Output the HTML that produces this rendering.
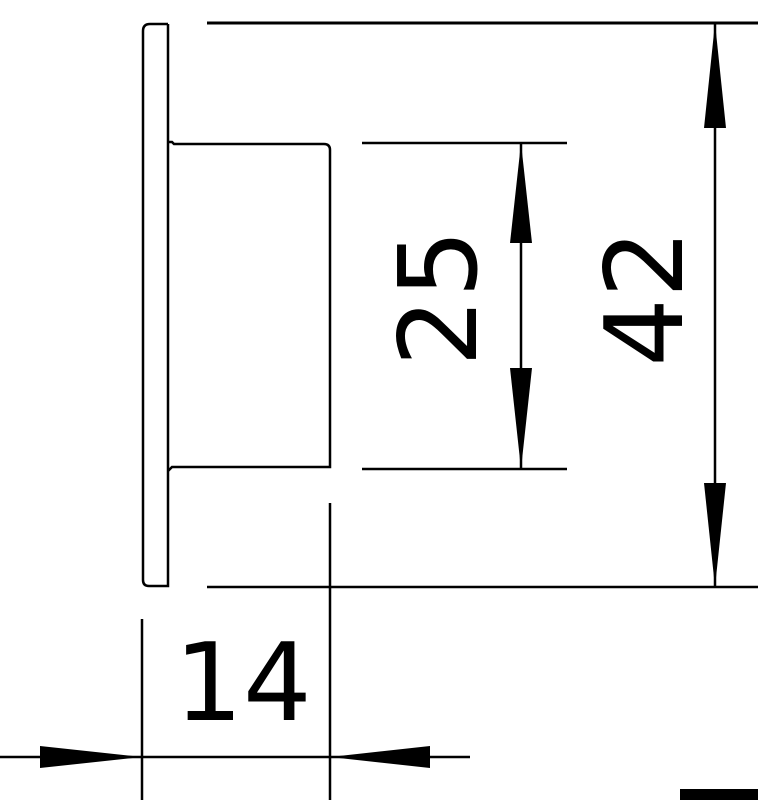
<!DOCTYPE html>
<html><head><meta charset="utf-8"><style>html,body{margin:0;padding:0;background:#fff;width:758px;height:800px;overflow:hidden}</style></head>
<body>
<svg width="758" height="800" viewBox="0 0 758 800" xmlns="http://www.w3.org/2000/svg">
<g fill="none" stroke="#000" stroke-width="2.5">
<path d="M168 24 L150 24 Q143 24 143 31 L143 580 Q143 586 149 586 L168 586 L168 24"/>
<path d="M168 142 L172 142 L174 144 L324 144 Q330 144 330 150 L330 467 L172 467 L168 471"/>
<line x1="207" y1="23" x2="758" y2="23" stroke-width="3"/>
<line x1="207" y1="587" x2="758" y2="587"/>
<line x1="330" y1="503" x2="330" y2="800"/>
<line x1="142" y1="619" x2="142" y2="800"/>
<line x1="0" y1="757" x2="470" y2="757"/>
<line x1="362" y1="143" x2="567" y2="143"/>
<line x1="362" y1="469" x2="567" y2="469"/>
<line x1="521" y1="143" x2="521" y2="469"/>
<line x1="715" y1="23" x2="715" y2="587"/>
</g>
<g fill="#000">
<polygon points="521,143 510,243 532,243"/>
<polygon points="521,469 510,368 532,368"/>
<polygon points="715,23 704,128 726,128"/>
<polygon points="715,587 704,483 726,483"/>
<polygon points="142,757 40,746 40,768"/>
<polygon points="330,757 430,746 430,768"/>
<rect x="680" y="789" width="78" height="11"/>
</g>
<g font-family="'DejaVu Sans','Liberation Sans',sans-serif" font-size="108" fill="#000" text-anchor="middle">
<text x="243" y="720">14</text>
<text transform="translate(476,298) rotate(-90)" x="0" y="0">25</text>
<text transform="translate(682,298) rotate(-90)" x="0" y="0">42</text>
</g>
</svg>
</body></html>
